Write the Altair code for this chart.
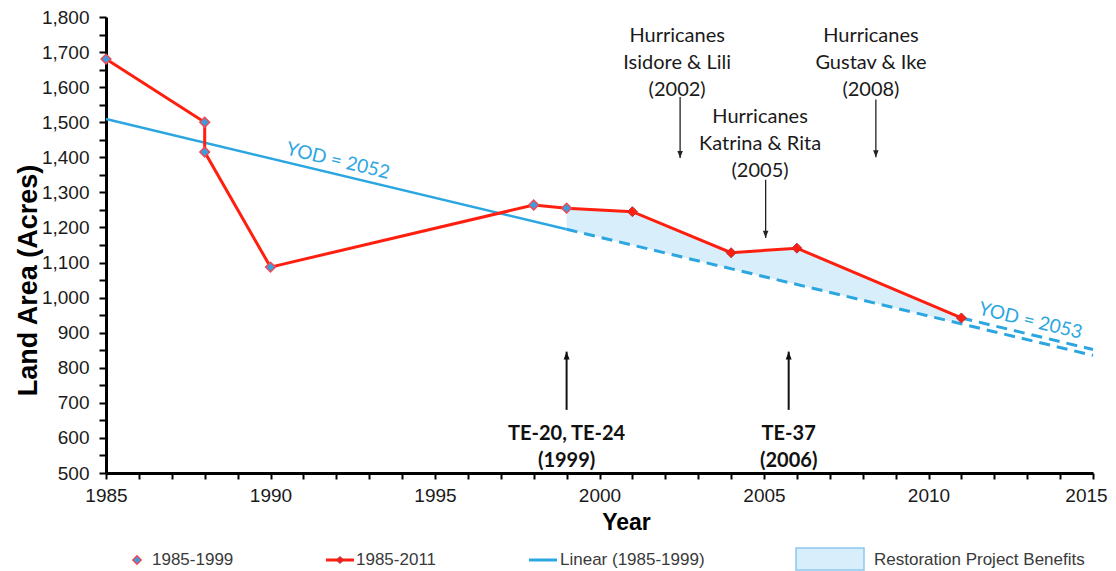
import altair as alt
import pandas as pd
import numpy as np

# ---------------- data ----------------
years = [1985, 1988, 1988, 1990, 1998, 1999, 2001, 2004, 2006, 2011]
land_area = [1680, 1500, 1415, 1087, 1264, 1255, 1245, 1128, 1141, 942]
n_early = 6              # first six points form the 1985-1999 series
trend_start, trend_break, trend_end = 1985, 1999, 2015
shift_start = 2011       # second projection starts at the 2011 observation

hurricane_labels = ["Hurricanes\nIsidore & Lili\n(2002)",
                    "Hurricanes\nKatrina & Rita\n(2005)",
                    "Hurricanes\nGustav & Ike\n(2008)"]
hurricane_text_x = [2002.36, 2004.88, 2008.25]
hurricane_text_y = [1728, 1498, 1728]
hurricane_arrow_x = [2002.45, 2005.05, 2008.4]
hurricane_arrow_top = [1572, 1336, 1565]
hurricane_arrow_tip = [1398, 1170, 1400]

project_labels = ["TE-20, TE-24\n(1999)", "TE-37\n(2006)"]
project_x = [1999.0, 2005.75]
project_text_y = [595, 595]
project_arrow_tip = [846, 846]
project_arrow_bottom = [680, 680]

yod_labels = ["YOD = 2052", "YOD = 2053"]
yod_x = [1992.05, 2013.1]
yod_y = [1390, 934]

legend_labels = ["1985-1999", "1985-2011", "Linear (1985-1999)", "Restoration Project Benefits"]

x_ticks = list(range(1985, 2016))
y_ticks = list(range(500, 1801, 50))

# ---------------- derived tables ----------------
RED = "#ff1f0f"
BLUE = "#2ba6e1"
TXT = "#1a1a1a"
FILL = "#d9eefb"

slope, intercept = np.polyfit(years[:n_early], land_area[:n_early], 1)

def trend(x):
    return float(slope * x + intercept)

obs = pd.DataFrame({"year": years, "area": land_area, "order": list(range(len(years)))})
early = obs.iloc[:n_early]
late = obs.iloc[n_early:]

trend_solid = pd.DataFrame({"year": [trend_start, trend_break],
                            "area": [trend(trend_start), trend(trend_break)]})
trend_dash = pd.DataFrame({"year": [trend_break, trend_end],
                           "area": [trend(trend_break), trend(trend_end)]})
a11 = land_area[years.index(shift_start)]
shift_dash = pd.DataFrame({"year": [shift_start, trend_end],
                           "area": [a11, a11 + slope * (trend_end - shift_start)]})

area_years = years[n_early - 1:]
benefit = pd.DataFrame({"year": area_years,
                        "top": land_area[n_early - 1:],
                        "bottom": [trend(y) for y in area_years]})

hurr = pd.DataFrame({"label": hurricane_labels, "tx": hurricane_text_x, "ty": hurricane_text_y,
                     "ax": hurricane_arrow_x, "top": hurricane_arrow_top, "tip": hurricane_arrow_tip})
proj = pd.DataFrame({"label": project_labels, "x": project_x, "ty": project_text_y,
                     "tip": project_arrow_tip, "bottom": project_arrow_bottom})
yod = pd.DataFrame({"label": yod_labels, "x": yod_x, "y": yod_y})

xscale = alt.Scale(domain=[1985, 2015], nice=False, zero=False)
yscale = alt.Scale(domain=[500, 1800], nice=False, zero=False)

X = alt.X("year:Q", scale=xscale, title="Year",
          axis=alt.Axis(values=x_ticks, tickCount=len(x_ticks) + 5,
                        labelExpr="datum.value % 5 == 0 ? datum.value : ''",
                        labelOverlap=False, labelFlush=False,
                        labelOffset={"condition": {"test": "datum.value == 2015", "value": -7},
                                     "value": 0},
                        tickSize=6, labelPadding=7, labelFontSize=19,
                        titleFontSize=23, titleFontWeight="bold",
                        titleX=520, titleY=56, titleBaseline="alphabetic", titleAlign="center"))
Y = alt.Y("area:Q", scale=yscale, title="Land Area (Acres)",
          axis=alt.Axis(values=y_ticks, tickCount=len(y_ticks) + 5,
                        labelExpr="datum.value % 100 == 0 ? format(datum.value, ',') : ''",
                        labelOverlap=False, labelFlush=False,
                        tickSize=7, labelPadding=10, labelFontSize=19,
                        titleFontSize=27, titleFontWeight="bold",
                        titleX=-70, titleY=263, titleAngle=-90, titleBaseline="alphabetic",
                        titleAlign="center"))

XS = alt.X("year:Q", scale=xscale)

area_layer = alt.Chart(benefit).mark_area(color=FILL, opacity=1).encode(
    x=X, y=alt.Y("top:Q", scale=yscale, title="Land Area (Acres)"), y2="bottom:Q")

solid_layer = alt.Chart(trend_solid).mark_line(color=BLUE, strokeWidth=2.5).encode(
    x=XS, y=alt.Y("area:Q", scale=yscale))
dash_layer = alt.Chart(trend_dash).mark_line(color=BLUE, strokeWidth=3, strokeDash=[11, 7]).encode(
    x=XS, y=alt.Y("area:Q", scale=yscale))
shift_layer = alt.Chart(shift_dash).mark_line(color=BLUE, strokeWidth=3, strokeDash=[11, 7]).encode(
    x=XS, y=alt.Y("area:Q", scale=yscale))

red_line = alt.Chart(obs).mark_line(color=RED, strokeWidth=3).encode(x=X, y=Y, order="order:Q")
red_pts = alt.Chart(late).mark_point(shape="diamond", filled=True, size=100, fill=RED,
                                     stroke="#b03040", strokeWidth=1, opacity=1).encode(
    x=XS, y=alt.Y("area:Q", scale=yscale))
blue_pts = alt.Chart(early).mark_point(shape="diamond", filled=True, size=95, fill="#3a9de0",
                                       stroke="#ee4a55", strokeWidth=1.5, opacity=1).encode(
    x=XS, y=alt.Y("area:Q", scale=yscale))

hurr_text = alt.Chart(hurr).mark_text(font="Lato", fontSize=20, color=TXT, lineBreak="\n",
                                      lineHeight=27, align="center", baseline="alphabetic").encode(
    x=alt.X("tx:Q", scale=xscale), y=alt.Y("ty:Q", scale=yscale), text="label:N")
hurr_rule = alt.Chart(hurr).mark_rule(color="#222222", strokeWidth=1.3).encode(
    x=alt.X("ax:Q", scale=xscale), y=alt.Y("top:Q", scale=yscale), y2="tip:Q")
hurr_head = alt.Chart(hurr).mark_point(shape="M0,0L-1,-2.6L1,-2.6Z", filled=True, size=30,
                                       color="#222222", opacity=1).encode(
    x=alt.X("ax:Q", scale=xscale), y=alt.Y("tip:Q", scale=yscale))

proj_text = alt.Chart(proj).mark_text(font="Lato", fontWeight="bold", fontSize=20, color="#111111",
                                      lineBreak="\n", lineHeight=27, align="center",
                                      baseline="alphabetic").encode(
    x=alt.X("x:Q", scale=xscale), y=alt.Y("ty:Q", scale=yscale), text="label:N")
proj_rule = alt.Chart(proj).mark_rule(color="#111111", strokeWidth=2).encode(
    x=alt.X("x:Q", scale=xscale), y=alt.Y("tip:Q", scale=yscale), y2="bottom:Q")
proj_head = alt.Chart(proj).mark_point(shape="M0,0L-1,2.6L1,2.6Z", filled=True, size=36,
                                       color="#111111", opacity=1).encode(
    x=alt.X("x:Q", scale=xscale), y=alt.Y("tip:Q", scale=yscale))

yod_text = alt.Chart(yod).mark_text(font="Lato", fontSize=19, color=BLUE, angle=13.5,
                                    align="center", baseline="middle").encode(
    x=alt.X("x:Q", scale=xscale), y=alt.Y("y:Q", scale=yscale), text="label:N")

# ---------------- legend (drawn below the plot) ----------------
LY = 543
LFONT = dict(font="Liberation Sans", fontSize=17, color="#3a3a3a", align="left", baseline="middle")
one = pd.DataFrame({"k": [0]})
lg = []
lg.append(alt.Chart(one).mark_point(shape="diamond", filled=True, size=70, fill="#3a9de0",
                                    stroke="#ee4a55", strokeWidth=1.5, opacity=1).encode(
    x=alt.value(31), y=alt.value(LY)))
lg.append(alt.Chart(pd.DataFrame({"t": [legend_labels[0]]})).mark_text(**LFONT).encode(
    x=alt.value(46), y=alt.value(LY), text="t:N"))
lg.append(alt.Chart(one).mark_rule(color=RED, strokeWidth=3).encode(
    x=alt.value(220), x2=alt.value(248), y=alt.value(LY)))
lg.append(alt.Chart(one).mark_point(shape="diamond", filled=True, size=50, fill=RED,
                                    stroke="#b03040", strokeWidth=1, opacity=1).encode(
    x=alt.value(234), y=alt.value(LY)))
lg.append(alt.Chart(pd.DataFrame({"t": [legend_labels[1]]})).mark_text(**LFONT).encode(
    x=alt.value(250), y=alt.value(LY), text="t:N"))
lg.append(alt.Chart(one).mark_rule(color=BLUE, strokeWidth=3).encode(
    x=alt.value(423), x2=alt.value(451), y=alt.value(LY)))
lg.append(alt.Chart(pd.DataFrame({"t": [legend_labels[2]]})).mark_text(**LFONT).encode(
    x=alt.value(454), y=alt.value(LY), text="t:N"))
lg.append(alt.Chart(one).mark_rect(fill=FILL, stroke="#8cc8ee", strokeWidth=1.5).encode(
    x=alt.value(690), x2=alt.value(758), y=alt.value(531), y2=alt.value(553)))
lg.append(alt.Chart(pd.DataFrame({"t": [legend_labels[3]]})).mark_text(**LFONT).encode(
    x=alt.value(768), y=alt.value(LY), text="t:N"))

chart = alt.layer(
    area_layer, solid_layer, dash_layer, shift_layer, red_line, red_pts, blue_pts,
    hurr_rule, hurr_head, hurr_text, proj_rule, proj_head, proj_text, yod_text, *lg
).properties(
    width=987, height=456,
    autosize=alt.AutoSizeParams(type="none"),
    padding={"left": 98, "top": 9, "right": 15, "bottom": 100},
    background="white",
).configure_view(stroke=None).configure_axis(
    grid=False, domainColor="black", domainWidth=3, tickColor="black", tickWidth=2,
    labelColor="#1a1a1a", labelFont="Liberation Sans", titleFont="Liberation Sans",
    titleColor="black",
)

chart.save("out.html", embed_options={"renderer": "svg", "actions": False})
